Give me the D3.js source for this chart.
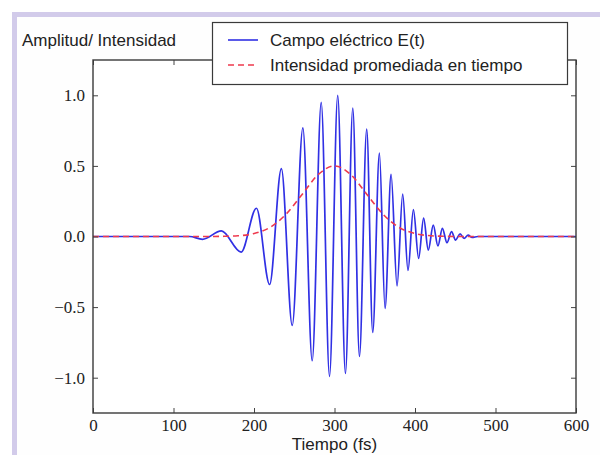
<!DOCTYPE html>
<html>
<head>
<meta charset="utf-8">
<script src="https://cdn.jsdelivr.net/npm/d3@7"></script>
<style>
  body { margin: 0; background: #fff; }
  #chart svg { display: block; }
</style>
</head>
<body>
<div id="chart"></div>
<script>
// --- Data ---
// Electric field: time (fs) of each peak / trough and its amplitude
const fieldTime = [0, 120, 136, 159.5, 184, 203, 219.4, 234, 247.5, 260.7, 272.3, 283.5, 293.8, 304,
  313.6, 322.7, 331, 340, 347.5, 355.8, 362.8, 370.3, 377.7, 384.7, 391.3, 398, 404.5, 410.7,
  416.5, 422.7, 428.5, 434, 439.7, 445.4, 450.4, 456, 461, 466, 471, 478, 600];
const fieldValue = [0, 0, -0.02, 0.04, -0.11, 0.20, -0.34, 0.48, -0.63, 0.77, -0.88, 0.95, -0.99, 1.0,
  -0.97, 0.91, -0.85, 0.76, -0.68, 0.59, -0.51, 0.44, -0.35, 0.30, -0.24, 0.19, -0.155, 0.13,
  -0.096, 0.08, -0.067, 0.058, -0.044, 0.034, -0.025, 0.018, -0.013, 0.01, -0.007, 0, 0];

// Time averaged intensity (red dashed envelope)
const intensityTime = [0, 140, 160, 180, 200, 220, 240, 260, 280, 300, 320, 340, 360, 380, 400, 420, 440, 460, 600];
const intensityValue = [0, 0, 0.001, 0.005, 0.021, 0.065, 0.159, 0.30, 0.44, 0.5, 0.44, 0.30, 0.159, 0.065, 0.021, 0.005, 0.001, 0, 0];

// Axis ticks and texts
const xTicks = [0, 100, 200, 300, 400, 500, 600];
const yTicks = [-1.0, -0.5, 0.0, 0.5, 1.0];
const seriesNames = ["Campo eléctrico E(t)", "Intensidad promediada en tiempo"];
const yTitle = "Amplitud/ Intensidad";
const xTitle = "Tiempo (fs)";

// --- Layout ---
const width = 600, height = 455;
const plot = { left: 93, right: 576, top: 60, bottom: 413 };

const svg = d3.select("#chart").append("svg")
  .attr("width", width)
  .attr("height", height);

// white page and lavender frame of the slide
svg.append("rect").attr("width", width).attr("height", height).attr("fill", "#fff");
svg.append("rect")
  .attr("x", 14.5).attr("y", 14.5)
  .attr("width", width + 20).attr("height", height + 20)
  .attr("fill", "#fefefe")
  .attr("stroke", "#d2cbea")
  .attr("stroke-width", 5);

// Scales
const x = d3.scaleLinear().domain([0, 600]).range([plot.left, plot.right]);
const y = d3.scaleLinear().domain([-1.25, 1.25]).range([plot.bottom, plot.top]);

// plot area background
svg.append("rect")
  .attr("x", plot.left).attr("y", plot.top)
  .attr("width", plot.right - plot.left).attr("height", plot.bottom - plot.top)
  .attr("fill", "#fff");

svg.append("clipPath").attr("id", "clip")
  .append("rect")
  .attr("x", plot.left).attr("y", plot.top)
  .attr("width", plot.right - plot.left).attr("height", plot.bottom - plot.top);

// --- Lines ---
const fieldData = fieldTime.map((t, i) => [t, fieldValue[i]]);
const intensityData = intensityTime.map((t, i) => [t, intensityValue[i]]);

const line = d3.line()
  .x(d => x(d[0]))
  .y(d => y(d[1]))
  .curve(d3.curveMonotoneX); // smooth through the extrema

const lines = svg.append("g").attr("clip-path", "url(#clip)");

lines.append("path")
  .datum(fieldData)
  .attr("d", line)
  .attr("fill", "none")
  .attr("stroke", "#3030e4")
  .attr("stroke-width", 1.7);

lines.append("path")
  .datum(intensityData)
  .attr("d", line)
  .attr("fill", "none")
  .attr("stroke", "#ee3a4e")
  .attr("stroke-width", 1.6)
  .attr("stroke-dasharray", "6,4");

// --- Axes (ticks pointing inward, matplotlib style) ---
const tickFont = "17px 'Liberation Serif', 'Times New Roman', serif";

svg.append("g")
  .attr("transform", `translate(0,${plot.bottom})`)
  .call(d3.axisBottom(x).tickValues(xTicks).tickSize(-5).tickPadding(6).tickFormat(d3.format("d")));
svg.append("g")
  .attr("transform", `translate(0,${plot.top})`)
  .call(d3.axisTop(x).tickValues(xTicks).tickSize(-5).tickFormat(""));

svg.append("g")
  .attr("transform", `translate(${plot.left},0)`)
  .call(d3.axisLeft(y).tickValues(yTicks).tickSize(-5).tickPadding(8).tickFormat(d3.format(".1f")));
svg.append("g")
  .attr("transform", `translate(${plot.right},0)`)
  .call(d3.axisRight(y).tickValues(yTicks).tickSize(-5).tickFormat(""));

svg.selectAll(".domain").remove();
svg.selectAll(".tick line").attr("stroke", "#444").attr("stroke-width", 1);
svg.selectAll(".tick text")
  .style("font", tickFont)
  .attr("fill", "#222");

// frame (spines)
svg.append("rect")
  .attr("x", plot.left).attr("y", plot.top)
  .attr("width", plot.right - plot.left).attr("height", plot.bottom - plot.top)
  .attr("fill", "none")
  .attr("stroke", "#3a3a3a")
  .attr("stroke-width", 1.4);

// --- Titles ---
const labelFont = "17px 'Liberation Sans', Arial, sans-serif";

svg.append("text")
  .attr("x", 22).attr("y", 46)
  .style("font", labelFont)
  .attr("fill", "#222")
  .text(yTitle);

// x title kept just inside the bottom edge
svg.append("text")
  .attr("x", (plot.left + plot.right) / 2).attr("y", 450)
  .attr("text-anchor", "middle")
  .style("font", labelFont)
  .attr("fill", "#222")
  .text(xTitle);

// --- Legend (sits over the top spine) ---
const legend = svg.append("g");
legend.append("rect")
  .attr("x", 212.5).attr("y", 22.5)
  .attr("width", 355).attr("height", 62)
  .attr("fill", "#fff")
  .attr("stroke", "#3a3a3a")
  .attr("stroke-width", 1.2);

const legendStyles = [
  { color: "#3030e4", dash: null },
  { color: "#ee3a4e", dash: "6,4" }
];

seriesNames.forEach((name, i) => {
  const ly = 40 + i * 25;
  legend.append("line")
    .attr("x1", 228).attr("x2", 258)
    .attr("y1", ly).attr("y2", ly)
    .attr("stroke", legendStyles[i].color)
    .attr("stroke-width", 1.6)
    .attr("stroke-dasharray", legendStyles[i].dash);
  legend.append("text")
    .attr("x", 270).attr("y", ly)
    .attr("dy", "0.35em")
    .style("font", labelFont)
    .attr("fill", "#222")
    .text(name);
});
</script>
</body>
</html>
